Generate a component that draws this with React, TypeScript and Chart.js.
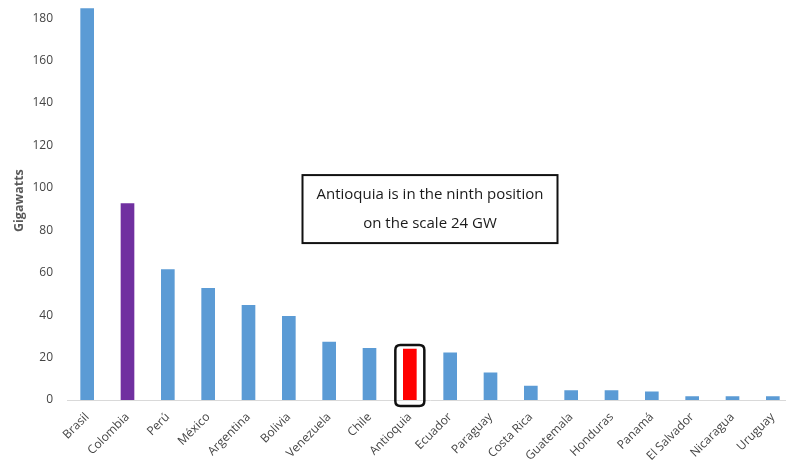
import React, { useEffect, useRef } from "react";
import { Chart, registerables } from "chart.js";

Chart.register(...registerables);

const countries = [
  "Brasil", "Colombia", "Perú", "México", "Argentina", "Bolivia", "Venezuela", "Chile",
  "Antioquia", "Ecuador", "Paraguay", "Costa Rica", "Guatemala", "Honduras", "Panamá",
  "El Salvador", "Nicaragua", "Uruguay",
];
const gigawatts = [184.5, 92.6, 61.5, 52.6, 44.6, 39.5, 27.3, 24.4, 24, 22.2, 12.8, 6.6, 4.4, 4.4, 3.8, 1.6, 1.6, 1.6];
const barColors = [
  "#5B9BD5", "#7030A0", "#5B9BD5", "#5B9BD5", "#5B9BD5", "#5B9BD5", "#5B9BD5", "#5B9BD5",
  "#FF0000", "#5B9BD5", "#5B9BD5", "#5B9BD5", "#5B9BD5", "#5B9BD5", "#5B9BD5",
  "#5B9BD5", "#5B9BD5", "#5B9BD5",
];
const yTicks = [0, 20, 40, 60, 80, 100, 120, 140, 160, 180];
const highlightIndex = 8;
const noteLines = ["Antioquia is in the ninth position", "on the scale 24 GW"];

const FONT = "'Open Sans', 'Liberation Sans', sans-serif";

function roundRect(ctx: CanvasRenderingContext2D, x: number, y: number, w: number, h: number, r: number) {
  ctx.beginPath();
  ctx.moveTo(x + r, y);
  ctx.lineTo(x + w - r, y);
  ctx.quadraticCurveTo(x + w, y, x + w, y + r);
  ctx.lineTo(x + w, y + h - r);
  ctx.quadraticCurveTo(x + w, y + h, x + w - r, y + h);
  ctx.lineTo(x + r, y + h);
  ctx.quadraticCurveTo(x, y + h, x, y + h - r);
  ctx.lineTo(x, y + r);
  ctx.quadraticCurveTo(x, y, x + r, y);
  ctx.closePath();
}

const overlays = {
  id: "overlays",
  afterDatasetsDraw(chart: any) {
    const ctx: CanvasRenderingContext2D = chart.ctx;
    const bar = chart.getDatasetMeta(0).data[highlightIndex];
    const xs = chart.scales.x;
    const ys = chart.scales.y;
    ctx.save();
    // outline around the highlighted bar
    const left = bar.x - 14.5;
    const top = bar.y - 4;
    const bottom = bar.base + 6;
    ctx.lineWidth = 2.5;
    ctx.strokeStyle = "#111";
    roundRect(ctx, left, top, 29, bottom - top, 5);
    ctx.stroke();

    // note box
    const cx = xs.getPixelForValue(highlightIndex + 0.5);
    const cy = ys.getPixelForValue(90);
    const w = 255;
    const h = 68;
    ctx.fillStyle = "#fff";
    ctx.fillRect(cx - w / 2, cy - h / 2, w, h);
    ctx.lineWidth = 2;
    ctx.strokeStyle = "#111";
    ctx.strokeRect(cx - w / 2, cy - h / 2, w, h);
    ctx.fillStyle = "#1a1a1a";
    ctx.font = `15px ${FONT}`;
    ctx.textAlign = "center";
    ctx.textBaseline = "middle";
    ctx.fillText(noteLines[0], cx, cy - 14);
    ctx.fillText(noteLines[1], cx, cy + 15);
    ctx.restore();
  },
};

export default function App() {
  const ref = useRef<HTMLCanvasElement>(null);

  useEffect(() => {
    if (!ref.current) return;
    const chart = new Chart(ref.current, {
      type: "bar",
      data: {
        labels: countries,
        datasets: [
          {
            data: gigawatts,
            backgroundColor: barColors,
            barThickness: 13,
          },
        ],
      },
      options: {
        animation: false,
        responsive: true,
        maintainAspectRatio: false,
        layout: { padding: 0 },
        plugins: { legend: { display: false }, tooltip: { enabled: false } },
        scales: {
          x: {
            grid: { display: false },
            border: { display: true, color: "#D9D9D9", width: 1 },
            ticks: {
              color: "#454545",
              font: { family: FONT, size: 12 },
              maxRotation: 45,
              minRotation: 45,
              padding: 2,
              autoSkip: false,
            },
            afterFit(scale: any) {
              scale.height = 63;
            },
          },
          y: {
            min: 0,
            max: 188,
            grid: { display: false, drawTicks: false },
            border: { display: false },
            afterBuildTicks(scale: any) {
              scale.ticks = yTicks.map((v) => ({ value: v }));
            },
            ticks: {
              color: "#454545",
              font: { family: FONT, size: 12 },
              padding: 14,
            },
            title: {
              display: true,
              text: "Gigawatts",
              color: "#595959",
              font: { family: FONT, size: 12.5, weight: "bold" },
              padding: { top: 12, bottom: 0 },
            },
            afterFit(scale: any) {
              scale.width = 67;
            },
          },
        },
      },
      plugins: [overlays],
    });
    return () => chart.destroy();
  }, []);

  return (
    <div style={{ position: "fixed", left: 0, top: 0, width: 786, height: 463, overflow: "hidden", background: "#fff" }}>
      <div style={{ position: "absolute", left: 0, top: -20, width: 793, height: 483 }}>
        <canvas ref={ref} />
      </div>
    </div>
  );
}
